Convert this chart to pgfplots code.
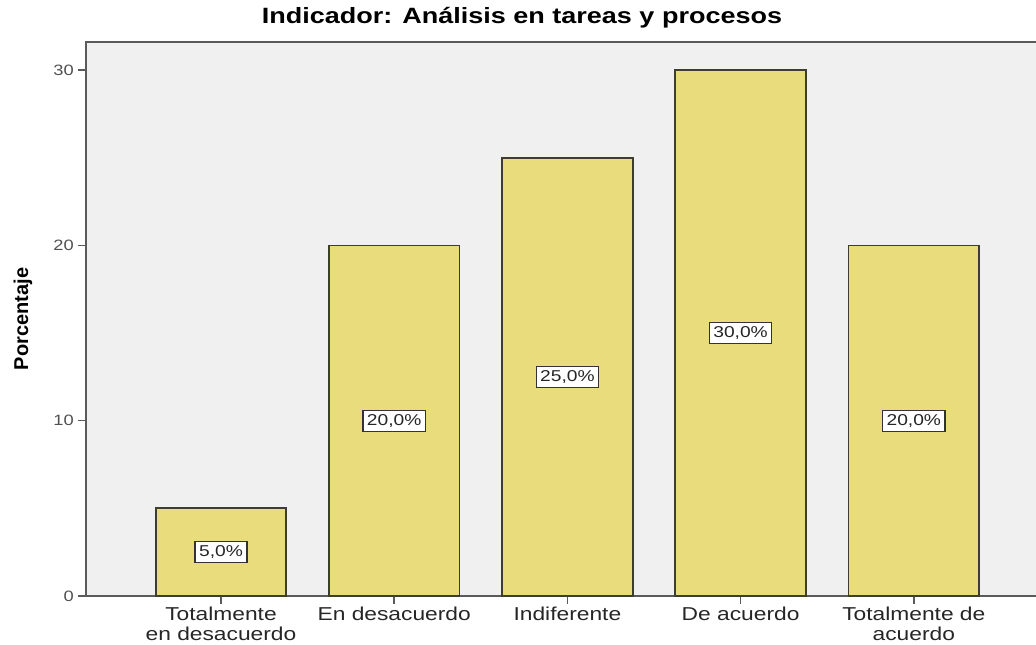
\documentclass[border=0pt]{standalone}
\usepackage{fontspec}
\setmainfont{Liberation Sans}[FakeStretch=1.22]
\newfontfamily\ylabfont{Liberation Sans}
\usepackage{pgfplots}
\pgfplotsset{compat=1.18}
\definecolor{bg}{HTML}{F0F0F0}
\definecolor{barfill}{HTML}{E8DC7C}
\definecolor{bardraw}{HTML}{3E3E30}
\definecolor{axgray}{HTML}{5A5A5A}
\definecolor{tickgray}{HTML}{505050}
\begin{document}
\begin{tikzpicture}
\begin{axis}[
  at={(0,0)}, anchor=south west,
  scale only axis, width=715.5pt, height=415.5pt,
  xmin=-0.7794, xmax=4.7286, ymin=0, ymax=31.6,
  /pgf/number format/assume math mode=true,
  axis background/.style={fill=bg},
  axis line style={draw=axgray, line width=1.2pt},
  tick align=outside, xtick pos=bottom, ytick pos=left,
  major tick length=6pt,
  tick style={draw=axgray, line width=1.2pt},
  xtick={0,1,2,3,4},
  xticklabels={{Totalmente\\en desacuerdo},{En desacuerdo},{Indiferente},{De acuerdo},{Totalmente de\\acuerdo}},
  xticklabel style={align=center, anchor=north, inner sep=0pt, yshift=-2pt, font=\fontsize{14}{15}\selectfont, text=black!85},
  ytick={0,10,20,30},
  yticklabel style={font=\fontsize{11.25}{13}\selectfont, text=tickgray, inner sep=0pt, xshift=-3pt},
  title={Indicador: Análisis en tareas y procesos},
  title style={at={(axis description cs:0.457,1)}, anchor=base, yshift=7.7pt, font=\bfseries\fontsize{16.6}{19}\selectfont},
  ylabel={Porcentaje},
  ylabel style={at={(axis description cs:-0.066,0.5)}, anchor=center, font=\ylabfont\bfseries\fontsize{15}{17}\selectfont},
  clip=false,
]
\addplot[ybar, bar width=0.7535, fill=barfill, draw=bardraw, line width=1.3pt,
  visualization depends on=rawy \as \rawy,
  nodes near coords={\pgfmathprintnumber[fixed,fixed zerofill,precision=1,use comma]{\pgfplotspointmeta}\%},
  every node near coord/.append style={anchor=center, shift={(axis direction cs:0,-\rawy/2)}, fill=white, draw=black!80, line width=1pt, inner xsep=3pt, inner ysep=3pt, text=black!85, font=\fontsize{11.8}{13}\selectfont}]
coordinates {(0,5) (1,20) (2,25) (3,30) (4,20)};
\end{axis}
\pgfresetboundingbox
\path (-64.5pt,-36pt) rectangle (712.5pt,447pt);
\end{tikzpicture}
\end{document}
